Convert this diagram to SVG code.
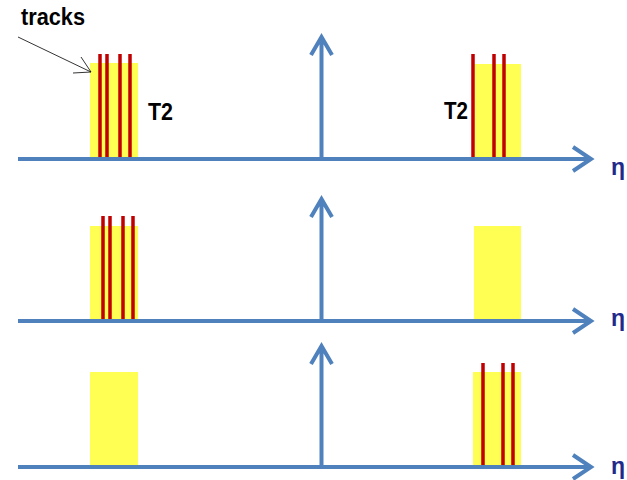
<svg xmlns="http://www.w3.org/2000/svg" width="627" height="480" viewBox="0 0 627 480">
<style>
.ax{stroke:#4f81bd;stroke-width:4;fill:none;stroke-linejoin:miter;stroke-linecap:butt}
.box{fill:#ffff40;fill-opacity:0.9}
.trk{stroke:#c00000;stroke-width:3.5}
.lbl{font-family:"Liberation Sans",Arial,sans-serif;font-weight:bold;font-size:23px;fill:#000}
.eta{font-family:"Liberation Sans",Arial,sans-serif;font-weight:bold;font-size:23px;fill:#1f2a8a}
</style>
<rect width="627" height="480" fill="#fff"/>
<g id="panel1">
  <rect class="box" x="90" y="63" width="48" height="96"/>
  <rect class="box" x="475" y="64" width="46" height="95"/>
  <g id="tracks1">
    <line class="trk" x1="100" y1="54" x2="100" y2="159"/>
    <line class="trk" x1="107" y1="54" x2="107" y2="159"/>
    <line class="trk" x1="120" y1="54" x2="120" y2="159"/>
    <line class="trk" x1="130" y1="54" x2="130" y2="159"/>
    <line class="trk" x1="473" y1="54" x2="473" y2="159"/>
    <line class="trk" x1="494" y1="54" x2="494" y2="159"/>
    <line class="trk" x1="504" y1="54" x2="504" y2="159"/>
  </g>
  <text class="lbl" x="148" y="120" textLength="25" lengthAdjust="spacingAndGlyphs">T2</text>
  <text class="lbl" x="444" y="119" textLength="24" lengthAdjust="spacingAndGlyphs">T2</text>
  <text class="lbl" x="21" y="25" font-size="20" textLength="64" lengthAdjust="spacingAndGlyphs">tracks</text>
</g>
<g id="panel2">
  <rect class="box" x="90" y="226" width="48" height="95"/>
  <rect class="box" x="474" y="226" width="47" height="95"/>
  <line class="trk" x1="103" y1="216" x2="103" y2="321"/>
  <line class="trk" x1="110" y1="216" x2="110" y2="321"/>
  <line class="trk" x1="123" y1="216" x2="123" y2="321"/>
  <line class="trk" x1="133" y1="216" x2="133" y2="321"/>
</g>
<g id="panel3">
  <rect class="box" x="90" y="372" width="48" height="95"/>
  <rect class="box" x="473" y="372" width="48" height="95"/>
  <line class="trk" x1="483" y1="363" x2="483" y2="467"/>
  <line class="trk" x1="503" y1="363" x2="503" y2="467"/>
  <line class="trk" x1="513" y1="363" x2="513" y2="467"/>
</g>
<g id="connectors">
  <path class="ax" d="M18 159 H590 M573 147 L591 159 L573 171"/>
  <path class="ax" d="M321.5 159 V38 M311 55 L321.5 37 L332 55"/>
  <path class="ax" d="M18 321 H590 M573 309 L591 321 L573 333"/>
  <path class="ax" d="M321.5 321 V200 M311 217 L321.5 199 L332 217"/>
  <path class="ax" d="M18 467 H590 M573 455 L591 467 L573 479"/>
  <path class="ax" d="M321.5 467 V347 M311 364 L321.5 346 L332 364"/>
  <path d="M18 37 L91 72 M81 57 L91 72 L73 73" stroke="#000" stroke-width="0.8" fill="none"/>
</g>
<text class="eta" x="611" y="175">η</text>
<text class="eta" x="611" y="326">η</text>
<text class="eta" x="611" y="474">η</text>
</svg>
